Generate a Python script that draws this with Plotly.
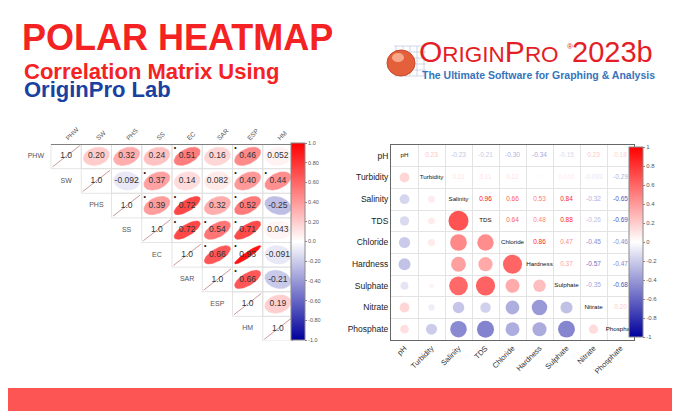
import numpy as np
import plotly.graph_objects as go

# ---------------- data ----------------
title_text = "POLAR HEATMAP"
subtitle_1 = "Correlation Matrix Using"
subtitle_2 = "OriginPro Lab"
logo_tagline = "The Ultimate Software for Graphing & Analysis"

left_vars = ["PHW", "SW", "PHS", "SS", "EC", "SAR", "ESP", "HM"]
# upper triangle, row i holds r(i, j) for j > i
left_upper = [
    [0.20, 0.32, 0.24, 0.51, 0.16, 0.46, 0.052],
    [-0.092, 0.37, 0.14, 0.082, 0.40, 0.44],
    [0.39, 0.72, 0.32, 0.52, -0.25],
    [0.72, 0.54, 0.71, 0.043],
    [0.66, 0.93, -0.091],
    [0.66, -0.21],
    [0.19],
]
left_sig = [
    [0, 0, 0, 1, 0, 1, 0],
    [0, 1, 0, 0, 1, 1],
    [1, 1, 0, 1, 0],
    [1, 1, 1, 0],
    [1, 1, 0],
    [1, 0],
    [0],
]

right_vars = ["pH", "Turbidity", "Salinity", "TDS", "Chloride",
              "Hardness", "Sulphate", "Nitrate", "Phosphate"]
right_upper = [
    [0.23, -0.23, -0.21, -0.30, -0.34, -0.15, 0.23, 0.18],
    [0.11, 0.11, 0.12, -0.01, 0.066, -0.093, -0.29],
    [0.96, 0.66, 0.53, 0.84, -0.32, -0.65],
    [0.64, 0.48, 0.88, -0.26, -0.69],
    [0.86, 0.47, -0.45, -0.46],
    [0.37, -0.57, -0.47],
    [-0.35, -0.68],
    [0.20],
]

cb_ticks = [1.0, 0.8, 0.6, 0.4, 0.2, 0.0, -0.2, -0.4, -0.6, -0.8, -1.0]
cb_left_labels = ["1.0", "0.80", "0.60", "0.40", "0.20", "0.0",
                  "-0.20", "-0.40", "-0.60", "-0.80", "-1.0"]
cb_right_labels = ["1", "0.8", "0.6", "0.4", "0.2", "0",
                   "-0.2", "-0.4", "-0.6", "-0.8", "-1"]

# ---------------- helpers ----------------
W, H = 680, 411
FONT = "Liberation Sans"


def px(xp):
    return xp / W


def py(yp):
    return 1 - yp / H


NEG = (0, 0, 156)
MID = (255, 255, 255)
POS = (255, 0, 0)
colorscale = [[0, "rgb(0,0,156)"], [0.5, "rgb(255,255,255)"], [1, "rgb(255,0,0)"]]


def rgb_of(v):
    v = max(-1.0, min(1.0, v))
    end = POS if v >= 0 else NEG
    a = abs(v)
    c = [round(MID[k] + (end[k] - MID[k]) * a) for k in range(3)]
    return f"rgb({c[0]},{c[1]},{c[2]})"


def fmt(v):
    if abs(v) >= 0.1:
        return f"{v:.2f}"
    return f"{v:.2g}"


fig = go.Figure()

# ---------------- left chart: ellipse correlation matrix ----------------
n_l = len(left_vars)
t = np.linspace(0, 2 * np.pi, 64)
cx, cy, cval, ctext, sx, sy = [], [], [], [], [], []
for i, row in enumerate(left_upper):
    for k, r in enumerate(row):
        j = i + 1 + k
        d = np.arccos(r)
        ex = j + 0.43 * np.cos(t + d / 2)
        ey = i - 0.37 * np.cos(t - d / 2)
        col = rgb_of(r)
        fig.add_trace(go.Scatter(x=ex, y=ey, mode="lines", fill="toself",
                                 fillcolor=col, line=dict(color=col, width=0.6),
                                 hoverinfo="skip", xaxis="x", yaxis="y"))
        cx.append(j)
        cy.append(i)
        cval.append(r)
        ctext.append(fmt(r))
        if left_sig[i][k]:
            sx.append(j - 0.4)
            sy.append(i - 0.33)

# diagonal lines
dlx, dly = [], []
for i in range(n_l):
    dlx += [i - 0.45, i + 0.45, None]
    dly += [i + 0.43, i - 0.43, None]
fig.add_trace(go.Scatter(x=dlx, y=dly, mode="lines",
                         line=dict(color="#c99a9a", width=1),
                         hoverinfo="skip", xaxis="x", yaxis="y"))

# colorbar carrier
fig.add_trace(go.Scatter(x=cx, y=cy, mode="markers",
                         marker=dict(color=cval, coloraxis="coloraxis", size=1, opacity=0),
                         hoverinfo="skip", xaxis="x", yaxis="y"))
# values
fig.add_trace(go.Scatter(x=cx + list(range(n_l)), y=cy + list(range(n_l)), mode="text",
                         text=ctext + ["1.0"] * n_l,
                         textfont=dict(family=FONT, size=8.5, color="#333333"),
                         hoverinfo="skip", xaxis="x", yaxis="y"))
# significance marks
fig.add_trace(go.Scatter(x=sx, y=sy, mode="text", text=["•"] * len(sx),
                         textfont=dict(family=FONT, size=7, color="#111111"),
                         hoverinfo="skip", xaxis="x", yaxis="y"))
# row labels (staircase)
fig.add_trace(go.Scatter(x=[i - 1 for i in range(n_l)], y=list(range(n_l)), mode="text",
                         text=left_vars,
                         textfont=dict(family=FONT, size=7, color="#555555"),
                         hoverinfo="skip", xaxis="x", yaxis="y"))

shapes = []
for i in range(n_l):
    for j in range(i, n_l):
        shapes.append(dict(type="rect", xref="x", yref="y",
                           x0=j - 0.5, x1=j + 0.5, y0=i - 0.5, y1=i + 0.5,
                           line=dict(color="#dedede", width=0.8), layer="below"))
shapes.append(dict(type="line", xref="x", yref="y", x0=-0.5, x1=n_l - 0.5,
                   y0=-0.5, y1=-0.5, line=dict(color="#808080", width=2)))
shapes.append(dict(type="line", xref="x", yref="y", x0=n_l - 0.5, x1=n_l - 0.5,
                   y0=-0.5, y1=n_l - 0.5, line=dict(color="#808080", width=2)))

# ---------------- right chart: polar heatmap ----------------
n_r = len(right_vars)
R = np.eye(n_r)
for i, row in enumerate(right_upper):
    for k, r in enumerate(row):
        j = i + 1 + k
        R[i, j] = r
        R[j, i] = r

lx, ly, lv = [], [], []
ux, uy, ut, uc = [], [], [], []
for i in range(n_r):
    for j in range(n_r):
        if i > j:
            lx.append(j)
            ly.append(i)
            lv.append(R[i, j])
        elif i < j:
            ux.append(j)
            uy.append(i)
            ut.append(fmt(R[i, j]))
            uc.append(rgb_of(R[i, j]))

fig.add_trace(go.Scatter(x=lx, y=ly, mode="markers",
                         marker=dict(color=lv, coloraxis="coloraxis2",
                                     size=[20.5 * np.sqrt(abs(v)) for v in lv],
                                     line=dict(width=0)),
                         hoverinfo="skip", xaxis="x2", yaxis="y2"))
fig.add_trace(go.Scatter(x=ux, y=uy, mode="text", text=ut,
                         textfont=dict(family=FONT, size=6.5, color=uc),
                         hoverinfo="skip", xaxis="x2", yaxis="y2"))
fig.add_trace(go.Scatter(x=list(range(n_r)), y=list(range(n_r)), mode="text",
                         text=right_vars,
                         textfont=dict(family=FONT, size=6.2, color="#111111"),
                         hoverinfo="skip", xaxis="x2", yaxis="y2"))

# ---------------- decorations ----------------
# bottom band
shapes.append(dict(type="rect", xref="paper", yref="paper", x0=0, x1=1,
                   y0=0, y1=py(380), fillcolor="#fd5454", line=dict(width=0)))
# logo icon: small grid + orb
for gx in [388, 395, 402, 409, 416]:
    shapes.append(dict(type="line", xref="paper", yref="paper", x0=px(gx), x1=px(gx),
                       y0=py(38), y1=py(68), line=dict(color="#c3cde0", width=0.8)))
for gy in [38, 44, 50, 56, 62, 68]:
    shapes.append(dict(type="line", xref="paper", yref="paper", x0=px(386), x1=px(418),
                       y0=py(gy), y1=py(gy), line=dict(color="#c3cde0", width=0.8)))
shapes.append(dict(type="circle", xref="paper", yref="paper", x0=px(379), x1=px(407),
                   y0=py(68), y1=py(42), fillcolor="#e4603a",
                   line=dict(color="#c9472a", width=1)))
shapes.append(dict(type="circle", xref="paper", yref="paper", x0=px(384), x1=px(396),
                   y0=py(54), y1=py(45), fillcolor="rgba(255,200,170,0.7)",
                   line=dict(width=0)))

annotations = [
    dict(text=f"<b>{title_text}</b>", x=px(12), y=py(29), xanchor="left", yanchor="middle",
         font=dict(family=FONT, size=36, color="#f42222")),
    dict(text=f"<b>{subtitle_1}</b>", x=px(14), y=py(63), xanchor="left", yanchor="middle",
         font=dict(family=FONT, size=22, color="#f42222")),
    dict(text=f"<b>{subtitle_2}</b>", x=px(14), y=py(82), xanchor="left", yanchor="middle",
         font=dict(family=FONT, size=22, color="#1941a0")),
    dict(text="<span style='font-size:30px'>O</span>RIGIN<span style='font-size:30px'>P</span>RO",
         x=px(409), y=py(44), xanchor="left", yanchor="middle",
         font=dict(family=FONT, size=22.5, color="#e41e26")),
    dict(text="®", x=px(557), y=py(38), xanchor="left", yanchor="middle",
         font=dict(family=FONT, size=8, color="#e41e26")),
    dict(text="2023b", x=px(562), y=py(44), xanchor="left", yanchor="middle",
         font=dict(family=FONT, size=29, color="#e41e26")),
    dict(text=f"<b>{logo_tagline}</b>", x=px(412), y=py(67), xanchor="left", yanchor="middle",
         font=dict(family=FONT, size=10.5, color="#3574bd")),
]
for a in annotations:
    a.update(xref="paper", yref="paper", showarrow=False)

cb_common = dict(tickvals=cb_ticks, ticks="outside", ticklen=2, tickcolor="#888",
                 outlinewidth=1, outlinecolor="#8a8a8a", thickness=14,
                 thicknessmode="pixels", lenmode="fraction", xanchor="left",
                 yanchor="middle", xpad=0, ypad=0)

fig.update_layout(
    width=W, height=H, margin=dict(l=0, r=0, t=0, b=0),
    paper_bgcolor="white", plot_bgcolor="rgba(0,0,0,0)", showlegend=False,
    font=dict(family=FONT),
    shapes=shapes, annotations=annotations,
    xaxis=dict(domain=[px(12.75), px(285)], range=[-1.5, n_l - 0.5], side="top",
               tickvals=list(range(n_l)), ticktext=left_vars, tickangle=-45,
               tickfont=dict(family=FONT, size=6.5, color="#555555"),
               showgrid=False, zeroline=False, showline=False, ticks="", anchor="y",
               fixedrange=True),
    yaxis=dict(domain=[py(333), py(136)], range=[n_l - 0.5, -0.5], visible=False,
               anchor="x", fixedrange=True),
    xaxis2=dict(domain=[px(383), px(626)], range=[-0.5, n_r - 0.5],
                tickvals=list(range(n_r)), ticktext=right_vars, tickangle=-45,
                tickfont=dict(family=FONT, size=7.5, color="#333333"),
                showgrid=False, zeroline=False, showline=True, mirror=True,
                linecolor="#666666", linewidth=1, ticks="", anchor="y2",
                minor=dict(tickvals=[k + 0.5 for k in range(n_r - 1)], showgrid=True,
                           gridcolor="#e3e3e3", gridwidth=0.8, ticks="")),
    yaxis2=dict(domain=[py(332), py(137)], range=[n_r - 0.5, -0.5],
                tickvals=list(range(n_r)), ticktext=right_vars,
                tickfont=dict(family=FONT, size=8.5, color="#222222"),
                showgrid=False, zeroline=False, showline=True, mirror=True,
                linecolor="#666666", linewidth=1, ticks="", anchor="x2",
                minor=dict(tickvals=[k + 0.5 for k in range(n_r - 1)], showgrid=True,
                           gridcolor="#e3e3e3", gridwidth=0.8, ticks="")),
    coloraxis=dict(cmin=-1, cmax=1, colorscale=colorscale,
                   colorbar=dict(x=px(283), y=(py(135) + py(332)) / 2,
                                 len=(332 - 135) / H, ticktext=cb_left_labels,
                                 tickfont=dict(family=FONT, size=5.5, color="#555"),
                                 **cb_common)),
    coloraxis2=dict(cmin=-1, cmax=1, colorscale=colorscale,
                    colorbar=dict(x=px(621), y=(py(139) + py(329)) / 2,
                                  len=(329 - 139) / H, ticktext=cb_right_labels,
                                  tickfont=dict(family=FONT, size=6, color="#555"),
                                  **cb_common)),
)

fig.write_html("out.html")
